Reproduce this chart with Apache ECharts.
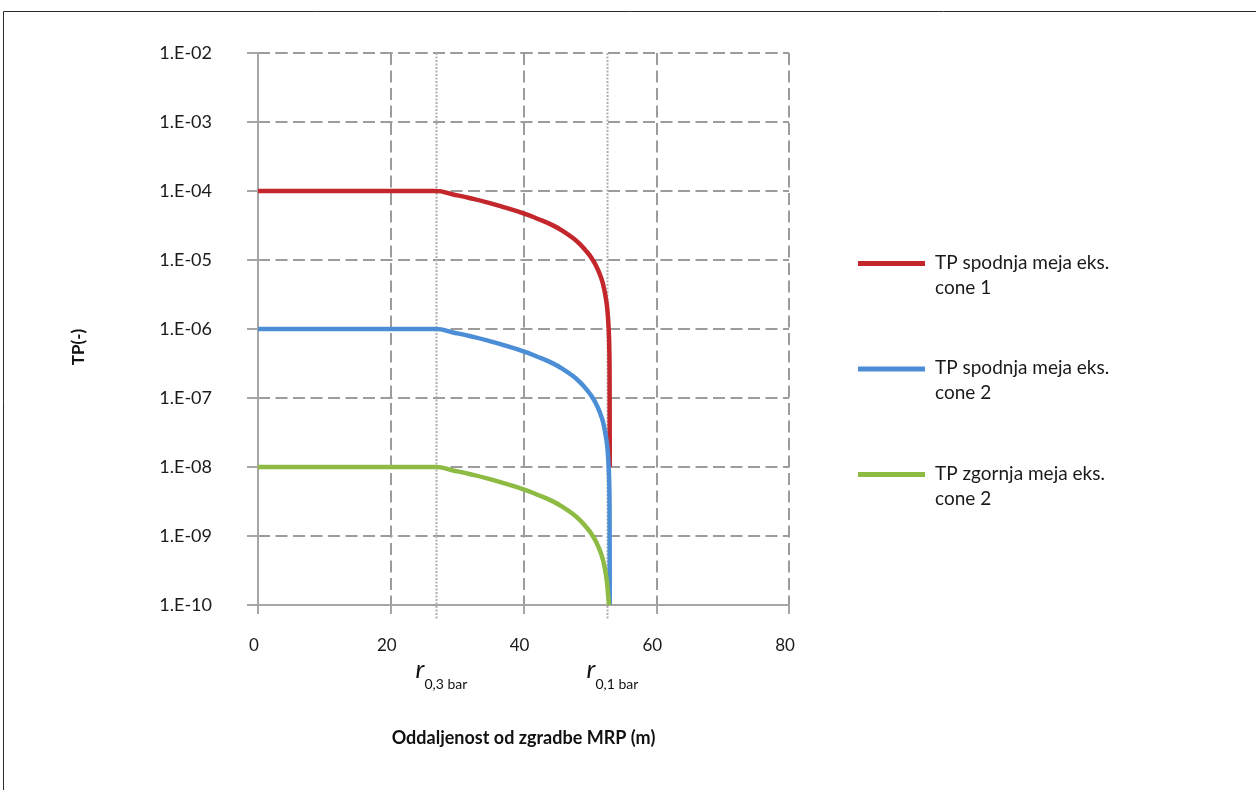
<!DOCTYPE html>
<html>
<head>
<meta charset="utf-8">
<script src="https://cdn.jsdelivr.net/npm/echarts@6/dist/echarts.min.js"></script>
<style>
html,body{margin:0;padding:0;background:#fff;}
#chart{width:1256px;height:790px;}
</style>
</head>
<body>
<div id="chart"></div>
<script>
// ---- data ----
var xValues = [0, 26.8, 29.4, 32, 34.5, 37, 40, 42, 44.5, 46, 47.5, 48.5, 49.5, 50.3, 51, 51.5, 52, 52.5, 52.75, 52.9, 52.97, 53.0];
var seriesNames = ['TP spodnja meja eks.\ncone 1', 'TP spodnja meja eks.\ncone 2', 'TP zgornja meja eks.\ncone 2'];
var redValues = [1e-4, 1e-4, 8.9e-5, 7.85e-5, 6.85e-5, 5.85e-5, 4.75e-5, 4.0e-5, 3.15e-5, 2.6e-5, 2.07e-5, 1.7e-5, 1.33e-5, 1.05e-5, 8.0e-6, 6.2e-6, 4.4e-6, 2.45e-6, 1.38e-6, 6.9e-7, 2.2e-7, 1.0e-8];
var blueValues = [1e-6, 1e-6, 8.9e-7, 7.85e-7, 6.85e-7, 5.85e-7, 4.75e-7, 4.0e-7, 3.15e-7, 2.6e-7, 2.07e-7, 1.7e-7, 1.33e-7, 1.05e-7, 8.0e-8, 6.2e-8, 4.4e-8, 2.45e-8, 1.38e-8, 6.9e-9, 2.2e-9, 1.0e-10];
var greenValues = [1e-8, 1e-8, 8.9e-9, 7.85e-9, 6.85e-9, 5.85e-9, 4.75e-9, 4.0e-9, 3.15e-9, 2.6e-9, 2.07e-9, 1.7e-9, 1.33e-9, 1.05e-9, 8.0e-10, 6.2e-10, 4.4e-10, 2.45e-10, 1.38e-10, 1.0e-10];
var yTickLabels = ['1.E-10', '1.E-09', '1.E-08', '1.E-07', '1.E-06', '1.E-05', '1.E-04', '1.E-03', '1.E-02'];
var xTickLabels = ['0', '20', '40', '60', '80'];
var refLines = [
  {x: 26.8, main: 'r', sub: '0,3 bar'},
  {x: 52.65, main: 'r', sub: '0,1 bar'}
];
var xAxisTitle = 'Oddaljenost od zgradbe MRP (m)';
var yAxisTitle = 'TP(-)';

// ---- chart ----
var FONT = 'Lato';
var colors = ['#C3272B', '#4C8ED6', '#8DBB43'];
function pairs(vals) { return vals.map(function (v, i) { return [xValues[i], v]; }); }

var chart = echarts.init(document.getElementById('chart'), null, {renderer: 'canvas'});
var gridDash = {color: '#9c9c9c', width: 2, type: [12, 5.5]};

var option = {
  backgroundColor: '#fff',
  animation: false,
  textStyle: {fontFamily: FONT},
  grid: {left: 258, right: 467, top: 53, bottom: 185, containLabel: false},
  legend: {
    orient: 'vertical',
    left: 858,
    top: 233.5,
    padding: 0,
    icon: 'rect',
    itemWidth: 67,
    itemHeight: 5,
    itemGap: 42,
    selectedMode: false,
    formatter: function (name) {
      var parts = name.split('\n');
      return '{e| }\n{t|' + parts[0] + '}\n{t|' + parts[1] + '}';
    },
    textStyle: {
      fontFamily: FONT, fontSize: 19, color: '#1a1a1a', padding: [0, 0, 0, 5],
      rich: {
        e: {fontSize: 10, lineHeight: 23, fontFamily: FONT},
        t: {fontSize: 19, lineHeight: 25, fontFamily: FONT, color: '#1a1a1a'}
      }
    },
    data: seriesNames
  },
  xAxis: {
    type: 'value',
    min: 0, max: 80, interval: 20,
    name: xAxisTitle,
    nameLocation: 'middle',
    nameGap: 124,
    nameTextStyle: {fontFamily: FONT, fontSize: 18, fontWeight: 'bold', color: '#111'},
    axisLine: {show: true, lineStyle: {color: '#a6a6a6', width: 2}},
    axisTick: {show: true, length: 9, lineStyle: {color: '#a6a6a6', width: 2}},
    axisLabel: {
      margin: 32, fontFamily: FONT, fontSize: 17, color: '#1a1a1a', padding: [0, 8, 0, 0],
      formatter: function (v) { return xTickLabels[Math.round(v / 20)]; }
    },
    splitLine: {show: true, lineStyle: gridDash}
  },
  yAxis: {
    type: 'log',
    logBase: 10,
    min: 1e-10, max: 1e-2,
    name: yAxisTitle,
    nameLocation: 'middle',
    nameGap: 171,
    nameRotate: 90,
    nameTextStyle: {fontFamily: FONT, fontSize: 17, fontWeight: 'bold', color: '#111', padding: [0, 36, 0, 0]},
    axisLine: {show: true, lineStyle: {color: '#a6a6a6', width: 2}},
    axisTick: {show: true, length: 11, lineStyle: {color: '#a6a6a6', width: 2}},
    axisLabel: {
      margin: 46, fontFamily: FONT, fontSize: 18, color: '#1a1a1a',
      formatter: function (v) {
        var e = Math.round(Math.log(v) / Math.LN10);
        return yTickLabels[e + 10];
      }
    },
    splitLine: {show: true, lineStyle: gridDash}
  },
  series: [
    {name: seriesNames[0], type: 'line', data: pairs(redValues), symbol: 'none', smooth: 0.5,
     lineStyle: {color: colors[0], width: 4.5}, itemStyle: {color: colors[0]}},
    {name: seriesNames[1], type: 'line', data: pairs(blueValues), symbol: 'none', smooth: 0.5,
     lineStyle: {color: colors[1], width: 4.5}, itemStyle: {color: colors[1]}},
    {name: seriesNames[2], type: 'line', data: pairs(greenValues), symbol: 'none', smooth: 0.5,
     lineStyle: {color: colors[2], width: 4.5}, itemStyle: {color: colors[2]}}
  ]
};
chart.setOption(option);

// reference lines and labels placed through the chart's own scales
var graphics = [{
  type: 'rect', silent: true, z: 0,
  shape: {x: 3.5, y: 11.5, width: 1400, height: 1000},
  style: {fill: 'none', stroke: '#2b2b2b', lineWidth: 1}
}];
refLines.forEach(function (r) {
  var top = chart.convertToPixel({gridIndex: 0}, [r.x, 1e-2]);
  var bot = chart.convertToPixel({gridIndex: 0}, [r.x, 1e-10]);
  var px = Math.round(top[0]) + 0.5;
  graphics.push({
    type: 'line', silent: true, z: 1,
    shape: {x1: px, y1: top[1], x2: px, y2: bot[1] + 15},
    style: {stroke: '#b0b0b0', lineWidth: 2, lineDash: [2, 1.5]}
  });
  graphics.push({
    type: 'text', silent: true, z: 5,
    x: px - 21, y: bot[1] + 78,
    style: {text: r.main, font: 'italic 26px "' + FONT + '"', fill: '#111', verticalAlign: 'bottom', align: 'left'}
  });
  graphics.push({
    type: 'text', silent: true, z: 5,
    x: px - 12, y: bot[1] + 86,
    style: {text: r.sub, font: '14px "' + FONT + '"', fill: '#111', verticalAlign: 'bottom', align: 'left'}
  });
});
chart.setOption({graphic: graphics});
</script>
</body>
</html>
